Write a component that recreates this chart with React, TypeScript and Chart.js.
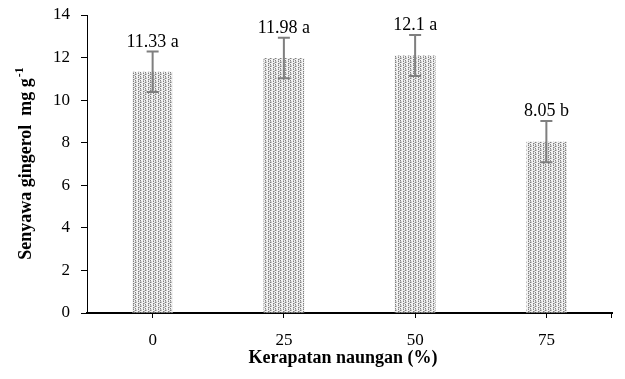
import React, { useEffect, useRef } from "react";
import { Chart, registerables } from "chart.js";

Chart.register(...registerables);

const categories = ["0", "25", "50", "75"];
const gingerolValues = [11.33, 11.98, 12.1, 8.05];
const errorValues = [0.95, 0.95, 0.96, 0.97];
const letters = ["a", "a", "a", "b"];
const yTicks = [0, 2, 4, 6, 8, 10, 12, 14];

const SERIF = "'Liberation Serif', 'Times New Roman', serif";

function makePattern(): CanvasPattern | string {
  const c = document.createElement("canvas");
  c.width = 5;
  c.height = 4;
  const g = c.getContext("2d");
  if (!g) return "#cccccc";
  g.fillStyle = "#f2f2f2";
  g.fillRect(0, 0, 5, 4);
  g.fillStyle = "#808080";
  g.fillRect(0, 0, 1, 1);
  g.fillRect(0, 2, 1, 1);
  g.fillRect(3, 1, 1, 1);
  g.fillRect(3, 3, 1, 1);
  g.fillStyle = "#bcbcbc";
  g.fillRect(0, 1, 1, 1);
  g.fillRect(3, 0, 1, 1);
  g.fillRect(1, 2, 1, 1);
  g.fillRect(4, 3, 1, 1);
  g.fillStyle = "#d8d8d8";
  g.fillRect(1, 1, 1, 1);
  g.fillRect(4, 2, 1, 1);
  const p = g.createPattern(c, "repeat");
  return p || "#cccccc";
}

const overlayPlugin = {
  id: "overlay",
  afterDatasetsDraw(chart: any) {
    const ctx = chart.ctx;
    const x = chart.scales.x;
    const y = chart.scales.y;
    ctx.save();
    // error bars
    ctx.strokeStyle = "#7f7f7f";
    ctx.lineWidth = 2;
    gingerolValues.forEach((v, i) => {
      const cx = x.getPixelForValue(i);
      const top = y.getPixelForValue(v + errorValues[i]);
      const bot = y.getPixelForValue(v - errorValues[i]);
      ctx.beginPath();
      ctx.moveTo(cx, top);
      ctx.lineTo(cx, bot);
      ctx.moveTo(cx - 6, top);
      ctx.lineTo(cx + 6, top);
      ctx.moveTo(cx - 6, bot);
      ctx.lineTo(cx + 6, bot);
      ctx.stroke();
    });
    // data labels
    ctx.fillStyle = "#000";
    ctx.font = `18px ${SERIF}`;
    ctx.textAlign = "center";
    ctx.textBaseline = "alphabetic";
    gingerolValues.forEach((v, i) => {
      const cx = x.getPixelForValue(i);
      const top = y.getPixelForValue(v + errorValues[i]);
      ctx.fillText(`${v} ${letters[i]}`, cx, top - 5);
    });
    // end tick on x axis
    const area = chart.chartArea;
    ctx.strokeStyle = "#000";
    ctx.lineWidth = 1;
    ctx.beginPath();
    ctx.moveTo(area.right - 0.5, area.bottom);
    ctx.lineTo(area.right - 0.5, area.bottom + 5);
    ctx.stroke();
    // axis titles
    ctx.font = `bold 18px ${SERIF}`;
    ctx.textAlign = "center";
    ctx.textBaseline = "middle";
    ctx.fillText("Kerapatan naungan (%)", 343, 358);
    ctx.translate(26, 164);
    ctx.rotate(-Math.PI / 2);
    const main = "Senyawa gingerol  mg g";
    const sup = "-1";
    ctx.font = `bold 18px ${SERIF}`;
    const wMain = ctx.measureText(main).width;
    ctx.font = `bold 12px ${SERIF}`;
    const wSup = ctx.measureText(sup).width;
    const start = -(wMain + wSup) / 2;
    ctx.textAlign = "left";
    ctx.font = `bold 18px ${SERIF}`;
    ctx.fillText(main, start, 0);
    ctx.font = `bold 12px ${SERIF}`;
    ctx.fillText(sup, start + wMain + 1, -6);
    ctx.restore();
  },
};

export default function App() {
  const ref = useRef<HTMLCanvasElement | null>(null);
  useEffect(() => {
    document.body.style.margin = "0";
    const canvas = ref.current;
    if (!canvas) return;
    const chart = new Chart(canvas, {
      type: "bar",
      data: {
        labels: categories,
        datasets: [
          {
            data: gingerolValues,
            backgroundColor: makePattern() as any,
            borderWidth: 0,
            barPercentage: 0.31,
            categoryPercentage: 1,
          },
        ],
      },
      options: {
        responsive: false,
        animation: false,
        layout: { padding: { left: 0, right: 13, top: 15, bottom: 0 } },
        plugins: {
          legend: { display: false },
          tooltip: { enabled: false },
          title: { display: false },
        },
        scales: {
          x: {
            grid: {
              display: true,
              drawOnChartArea: false,
              drawTicks: true,
              tickLength: 5,
              color: "#000",
              offset: false,
            },
            border: { display: true, color: "#000", width: 2 },
            ticks: {
              color: "#000",
              font: { family: SERIF, size: 17 },
              padding: 12,
            },
            afterFit: (s: any) => {
              s.height = 66;
              s.paddingLeft = 0;
              s.paddingRight = 0;
            },
          },
          y: {
            min: 0,
            max: 14,
            afterBuildTicks: (s: any) => {
              s.ticks = yTicks.map((v) => ({ value: v }));
            },
            grid: {
              display: true,
              drawOnChartArea: false,
              drawTicks: true,
              tickLength: 6,
              color: "#000",
            },
            border: { display: true, color: "#000", width: 1 },
            ticks: {
              color: "#000",
              font: { family: SERIF, size: 17 },
              padding: 11,
            },
            afterFit: (s: any) => {
              s.width = 87;
              s.paddingTop = 0;
              s.paddingBottom = 0;
            },
          },
        },
      },
      plugins: [overlayPlugin],
    });
    return () => chart.destroy();
  }, []);
  return <canvas ref={ref} width={625} height={379} style={{ display: "block" }} />;
}
